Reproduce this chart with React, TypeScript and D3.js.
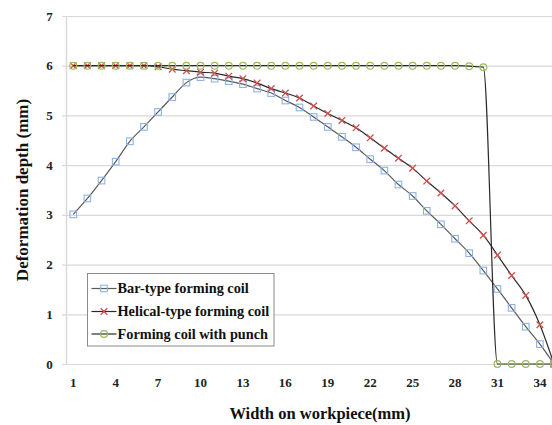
import React from "react";
import * as d3 from "d3";

const categories = [
  "1", "2", "3", "4", "5", "6", "7", "8", "9", "10",
  "11", "12", "13", "14", "15", "16", "17", "18", "19", "20",
  "21", "22", "23", "24", "25", "26", "27", "28", "29", "30",
  "31", "32", "33", "34", "35",
];
const tickLabels = ["1", "4", "7", "10", "13", "16", "19", "22", "25", "28", "31", "34"];
const yTicks = [0, 1, 2, 3, 4, 5, 6, 7];

const barType = [
  3.01, 3.33, 3.69, 4.07, 4.48, 4.77, 5.07, 5.37, 5.66, 5.77,
  5.74, 5.69, 5.63, 5.54, 5.45, 5.3, 5.16, 4.97, 4.77, 4.57,
  4.36, 4.12, 3.89, 3.61, 3.38, 3.08, 2.81, 2.52, 2.23, 1.88,
  1.51, 1.13, 0.75, 0.4, 0.0,
];
const helicalType = [
  6.0, 6.0, 6.0, 6.0, 6.0, 6.0, 5.98, 5.93, 5.9, 5.87,
  5.85, 5.79, 5.74, 5.65, 5.54, 5.45, 5.35, 5.19, 5.04, 4.9,
  4.75, 4.55, 4.34, 4.14, 3.94, 3.68, 3.44, 3.18, 2.88, 2.59,
  2.19, 1.78, 1.38, 0.79, 0.0,
];
const withPunch = [
  6.0, 6.0, 6.0, 6.0, 6.0, 6.0, 6.0, 6.0, 6.0, 6.0,
  6.0, 6.0, 6.0, 6.0, 6.0, 6.0, 6.0, 6.0, 6.0, 6.0,
  6.0, 6.0, 6.0, 6.0, 6.0, 6.0, 6.0, 6.0, 5.99, 5.97,
  0.0, 0.0, 0.0, 0.0, 0.0,
];
const seriesNames = ["Bar-type forming coil", "Helical-type forming coil", "Forming coil with punch"];

const FONT = "'Liberation Serif', 'Times New Roman', serif";
const BLUE = "#8db3e2";
const RED = "#d0504d";
const GREEN = "#9bbb59";

function Marker({ kind, x, y }: { kind: string; x: number; y: number }) {
  if (kind === "square") {
    return <rect x={x - 3.3} y={y - 3.3} width={6.6} height={6.6} fill="none" stroke={BLUE} strokeWidth={1.1} />;
  }
  if (kind === "x") {
    const s = 3.3;
    return (
      <path d={`M${x - s},${y - s}L${x + s},${y + s}M${x - s},${y + s}L${x + s},${y - s}`} stroke={RED} strokeWidth={1.3} fill="none" />
    );
  }
  return <circle cx={x} cy={y} r={3.4} fill="none" stroke={GREEN} strokeWidth={1.2} />;
}

export default function App() {
  const W = 552;
  const H = 425;
  const step = 14.14;
  const x0 = 66.2;
  const xBand = d3.scaleBand<string>().domain(categories).range([x0, x0 + step * categories.length]).padding(0);
  const xc = (c: string) => (xBand(c) as number) + xBand.bandwidth() / 2;
  const y = d3.scaleLinear().domain([0, 7]).range([364, 16]);

  const line = d3
    .line<number>()
    .x((_, i) => xc(categories[i]))
    .y((d) => y(d))
    .curve(d3.curveMonotoneX);

  const series = [
    { name: seriesNames[0], data: barType, lineColor: "#5a5a5a", marker: "square" },
    { name: seriesNames[1], data: helicalType, lineColor: "#2a2a2a", marker: "x" },
    { name: seriesNames[2], data: withPunch, lineColor: "#2a2a2a", marker: "circle" },
  ];

  const legendX = 87.5;
  const legendY = 273.5;
  const legendRows = [288.5, 311.5, 334];

  return (
    <svg width={W} height={H} style={{ position: "absolute", left: 0, top: 0, background: "#fff" }} fontFamily={FONT}>
      <rect x={0} y={0} width={W} height={H} fill="#fff" />
      {yTicks.map((t) => (
        <line key={"g" + t} x1={62} x2={W} y1={y(t) + 0.5} y2={y(t) + 0.5} stroke="#d9d9d9" strokeWidth={1.2} />
      ))}
      <line x1={66.5} x2={66.5} y1={y(7)} y2={y(0)} stroke="#d9d9d9" strokeWidth={1.5} />
      {yTicks.map((t) => (
        <text key={"yl" + t} x={49.5} y={y(t) + 4.6} textAnchor="middle" fontSize={13} fontWeight="bold" fill="#222">
          {t}
        </text>
      ))}
      {tickLabels.map((c) => (
        <text key={"xl" + c} x={xc(c)} y={386.5} textAnchor="middle" fontSize={13} fontWeight="bold" fill="#222">
          {c}
        </text>
      ))}
      {series.map((s) => (
        <g key={s.name}>
          <path d={line(s.data) || ""} fill="none" stroke={s.lineColor} strokeWidth={1.2} />
          {s.data.map((v, i) => (
            <Marker key={i} kind={s.marker} x={xc(categories[i])} y={y(v)} />
          ))}
        </g>
      ))}
      <rect x={legendX} y={legendY} width={186.5} height={72.5} fill="#fff" stroke="#8a8a8a" strokeWidth={1} />
      {series.map((s, i) => (
        <g key={"lg" + i}>
          <line x1={91.5} x2={116.5} y1={legendRows[i]} y2={legendRows[i]} stroke={s.lineColor} strokeWidth={1.2} />
          <Marker kind={s.marker} x={104} y={legendRows[i]} />
          <text x={117.5} y={legendRows[i] + 4.8} fontSize={14.3} fontWeight="bold" fill="#111">
            {s.name}
          </text>
        </g>
      ))}
      <text x={320} y={419} textAnchor="middle" fontSize={16.5} fontWeight="bold" fill="#111">
        Width on workpiece(mm)
      </text>
      <text transform={`translate(28,190) rotate(-90)`} textAnchor="middle" fontSize={17} fontWeight="bold" fill="#111">
        Deformation depth (mm)
      </text>
    </svg>
  );
}
